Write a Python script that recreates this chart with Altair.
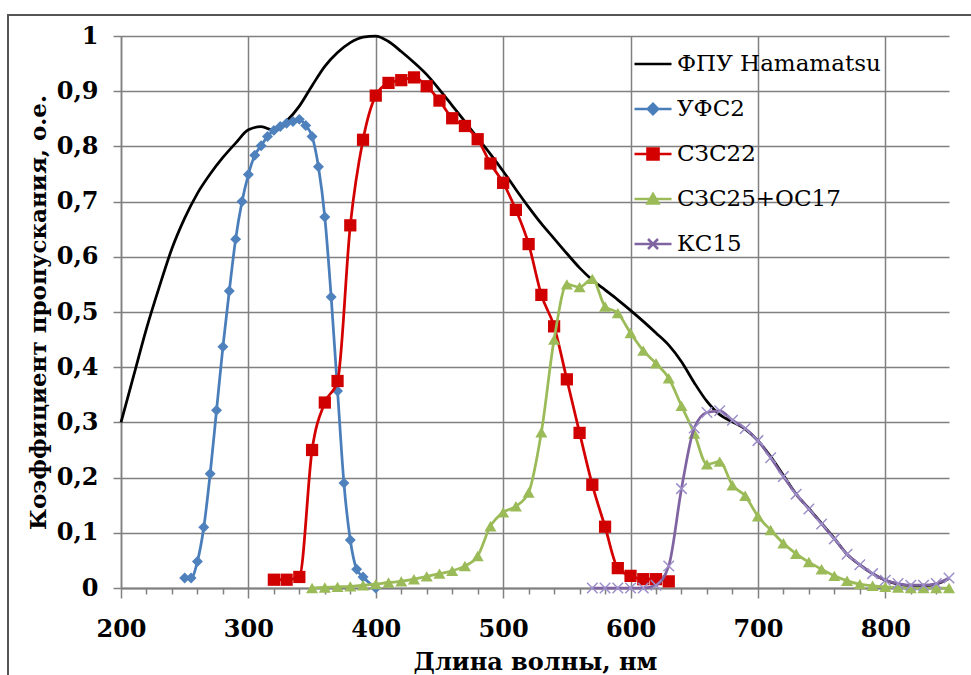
import altair as alt
import pandas as pd

# Series names (legend order) and line colours
series_names = ["ФПУ Hamamatsu", "УФС2", "СЗС22", "СЗС25+ОС17", "КС15"]
line_colors = ["#000000", "#4a7ebb", "#d40000", "#9bbb59", "#8064a2"]

# ФПУ Hamamatsu spectral response, 200–850 nm
hamamatsu_wl = list(range(200, 851, 10))
hamamatsu_val = [
    0.30, 0.385, 0.47, 0.545, 0.615, 0.67, 0.715, 0.75, 0.78, 0.806,
    0.83, 0.836, 0.829, 0.846, 0.873, 0.91, 0.945, 0.97, 0.988, 0.998,
    1.0, 0.99, 0.972, 0.952, 0.93, 0.903, 0.874, 0.845, 0.815, 0.786,
    0.755, 0.722, 0.69, 0.66, 0.633, 0.606, 0.58, 0.558, 0.54, 0.522,
    0.503, 0.483, 0.462, 0.44, 0.41, 0.372, 0.338, 0.314, 0.301, 0.288,
    0.267, 0.238, 0.204, 0.17, 0.144, 0.117, 0.09, 0.061, 0.042, 0.026,
    0.014, 0.007, 0.004, 0.004, 0.007, 0.017,
]

# УФС2 filter transmission
ufs2_wl = list(range(250, 391, 5)) + [400]
ufs2_val = [
    0.018, 0.018, 0.048, 0.11, 0.207, 0.322, 0.437, 0.538, 0.632, 0.70,
    0.749, 0.784, 0.801, 0.818, 0.829, 0.836, 0.842, 0.845, 0.849, 0.838,
    0.818, 0.763, 0.672, 0.527, 0.357, 0.19, 0.087, 0.034, 0.02, 0.0,
]

# СЗС22 filter transmission
szs22_wl = list(range(320, 631, 10))
szs22_val = [
    0.015, 0.015, 0.02, 0.25, 0.336, 0.375, 0.657, 0.812, 0.892, 0.915,
    0.92, 0.925, 0.909, 0.883, 0.851, 0.837, 0.813, 0.769, 0.734, 0.685,
    0.623, 0.531, 0.474, 0.378, 0.281, 0.187, 0.111, 0.036, 0.022, 0.016,
    0.016, 0.012,
]

# СЗС25+ОС17 filter pair transmission
szs25_wl = list(range(350, 851, 10))
szs25_val = [
    0.0, 0.001, 0.002, 0.003, 0.005, 0.007, 0.01, 0.012, 0.016, 0.021,
    0.026, 0.031, 0.04, 0.058, 0.112, 0.137, 0.148, 0.173, 0.282, 0.45,
    0.55, 0.545, 0.56, 0.51, 0.498, 0.462, 0.43, 0.407, 0.38, 0.33,
    0.28, 0.224, 0.229, 0.186, 0.167, 0.13, 0.105, 0.081, 0.062, 0.047,
    0.034, 0.022, 0.013, 0.007, 0.004, 0.002, 0.001, 0.0, 0.0, 0.0,
    0.0,
]

# КС15 filter transmission
ks15_wl = list(range(570, 851, 10))
ks15_val = [
    0.0, 0.0, 0.0, 0.0, 0.0, 0.005, 0.04, 0.18, 0.29, 0.318,
    0.321, 0.304, 0.289, 0.267, 0.236, 0.202, 0.17, 0.143, 0.116, 0.089,
    0.061, 0.042, 0.026, 0.014, 0.008, 0.005, 0.005, 0.008, 0.018,
]

# x-axis tick positions (labels and grid every 100 nm, small ticks every 20 nm)
x_tick_values = list(range(200, 851, 20))
y_tick_values = [0, 0.1, 0.2, 0.3, 0.4, 0.5, 0.6, 0.7, 0.8, 0.9, 1.0]

series_data = [
    (series_names[0], hamamatsu_wl, hamamatsu_val),
    (series_names[1], ufs2_wl, ufs2_val),
    (series_names[2], szs22_wl, szs22_val),
    (series_names[3], szs25_wl, szs25_val),
    (series_names[4], ks15_wl, ks15_val),
]
rows = []
for name, wl, vals in series_data:
    for w, v in zip(wl, vals):
        rows.append({"series": name, "wl": w, "val": v})
df = pd.DataFrame(rows)

FONT = "DejaVu Serif"
GRID = "#808080"

x_axis = alt.Axis(
    values=x_tick_values,
    labelExpr="datum.value % 100 === 0 && datum.value <= 800 ? datum.label : ''",
    grid=True,
    gridColor=GRID,
    gridWidth=1.5,
    gridOpacity={"condition": {"test": "datum.value % 100 === 0", "value": 1}, "value": 0},
    tickSize={"condition": {"test": "datum.value % 100 === 0", "value": 10}, "value": 6},
    tickColor=GRID,
    tickWidth=1.5,
    domainColor=GRID,
    domainWidth=2,
    labelFont=FONT,
    labelFontSize=24,
    labelFontWeight="bold",
    labelColor="black",
    labelPadding=19,
    labelFlush=False,
    labelOverlap=False,
    titleFont=FONT,
    titleFontSize=24,
    titleFontWeight="bold",
    titleColor="black",
    titleY=81,
    titleBaseline="alphabetic",
)

y_axis = alt.Axis(
    values=y_tick_values,
    labelExpr="replace(format(datum.value, '.1~f'), '.', ',')",
    grid=True,
    gridColor=GRID,
    gridWidth=1.5,
    tickSize=8,
    tickColor=GRID,
    tickWidth=1.5,
    domainColor=GRID,
    domainWidth=1.5,
    labelFont=FONT,
    labelFontSize=24,
    labelFontWeight="bold",
    labelColor="black",
    labelPadding=15,
    labelFlush=False,
    labelOverlap=False,
    titleFont=FONT,
    titleFontSize=23,
    titleFontWeight="bold",
    titleColor="black",
    titleX=-83,
    titleY=276,
    titleAngle=-90,
    titleBaseline="middle",
)

x_enc = alt.X("wl:Q", scale=alt.Scale(domain=[200, 850], nice=False, zero=False),
              axis=x_axis, title="Длина волны, нм")
y_enc = alt.Y("val:Q", scale=alt.Scale(domain=[0, 1], nice=False, zero=False),
              axis=y_axis, title="Коэффициент пропускания, о.е.")

# legend symbols: a short line with the series marker in the middle
legend_paths = [
    "M-1,0H1",
    "M-1,0H1M-0.28,0L0,-0.28L0.28,0L0,0.28Z",
    "M-1,0H1M-0.3,-0.3H0.3V0.3H-0.3Z",
    "M-1,0H1M0,-0.27L0.3,0.24H-0.3Z",
    "M-1,0H1M-0.27,-0.27L0.27,0.27M-0.27,0.27L0.27,-0.27",
]

legend = alt.Legend(
    orient="none",
    legendX=512,
    legendY=8,
    padding=0,
    rowPadding=13,
    symbolSize=1369,
    symbolStrokeWidth=2.5,
    symbolOpacity=1,
    labelOffset=4,
    labelLimit=400,
    labelFont=FONT,
    labelFontSize=23,
    labelColor="black",
)

series_color_scale = alt.Scale(domain=series_names, range=line_colors)

marker_styles = {
    series_names[1]: dict(shape="diamond", filled=True, size=120, color="#4f81bd"),
    series_names[2]: dict(shape="square", filled=True, size=150, color="#d00000"),
    series_names[3]: dict(shape="triangle-up", filled=True, size=145, color="#9bbb59"),
    series_names[4]: dict(shape="M-1,-1L1,1M-1,1L1,-1", filled=False, size=110,
                          strokeWidth=1.5, color="#9d8fc9"),
}

# outer frame around the figure
frame = alt.Chart(pd.DataFrame({"k": [0]})).mark_rect(
    filled=False, stroke="#555555", strokeWidth=2
).encode(
    x=alt.value(-113), x2=alt.value(880), y=alt.value(-21), y2=alt.value(700)
)

layers = [frame]
for name, col in zip(series_names, line_colors):
    sub = df[df["series"] == name]
    layers.append(
        alt.Chart(sub).mark_line(interpolate="monotone", strokeWidth=2.75, color=col).encode(
            x=x_enc, y=y_enc
        )
    )
    if name in marker_styles:
        layers.append(
            alt.Chart(sub).mark_point(opacity=1, **marker_styles[name]).encode(
                x=x_enc, y=y_enc
            )
        )

# invisible layer that carries the series legend (fill, stroke and shape merged)
legend_layer = alt.Chart(df).mark_point(filled=True, opacity=0, strokeWidth=2.5).encode(
    x=x_enc,
    y=y_enc,
    fill=alt.Fill("series:N", scale=series_color_scale, legend=legend, title=None),
    stroke=alt.Stroke("series:N", scale=series_color_scale, legend=legend, title=None),
    shape=alt.Shape("series:N", scale=alt.Scale(domain=series_names, range=legend_paths),
                    legend=legend, title=None),
)
layers.append(legend_layer)

chart = alt.layer(*layers).properties(
    width=828,
    height=552,
    padding={"left": 121, "top": 36, "right": 22, "bottom": 87},
    autosize=alt.AutoSizeParams(type="none"),
    background="white",
).configure(
    font=FONT
).configure_view(stroke="transparent")

chart.save("out.html", embed_options={"renderer": "svg", "actions": False})
